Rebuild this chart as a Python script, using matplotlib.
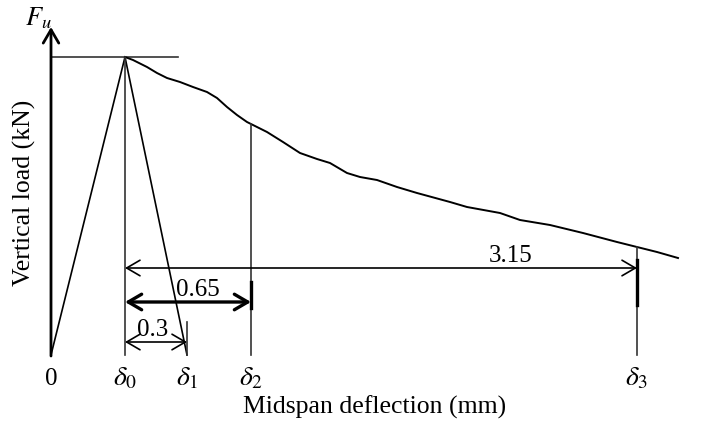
import numpy as np
import matplotlib.pyplot as plt

plt.rcParams['font.family'] = 'Liberation Serif'
plt.rcParams['mathtext.fontset'] = 'stix'

# load-deflection curve after the peak (schematic units)
curve_x = [74, 82, 96, 106, 116, 129, 142, 156, 166, 176, 186, 196, 206, 216,
           232, 249, 266, 279, 296, 309, 326, 346, 366, 399, 416, 449, 469, 499,
           532, 566, 586, 606, 627]
curve_y = [298, 295, 288, 282, 277, 273, 268, 263, 257, 248, 240, 233, 228, 223,
           213, 202, 196, 192, 182, 178, 175, 168, 162, 153, 148, 142, 135, 130,
           122, 113, 108, 103, 97]

# characteristic deflections
delta_pos = [74, 136, 200, 586]
delta_labels = [r'$\delta_0$', r'$\delta_1$', r'$\delta_2$', r'$\delta_3$']
spans = ['0.3', '0.65', '3.15']
span_y = [13, 53, 87]
span_lw = [1.2, 2.4, 1.2]

peak_x, peak_y = curve_x[0], curve_y[0]

fig = plt.figure(figsize=(7.04, 4.3), dpi=100)
ax = fig.add_axes([0, 0, 1, 1])
ax.set_xlim(-51, 653)
ax.set_ylim(-75, 355)
ax.axis('off')

head = '->,head_length=0.6,head_width=0.35'
# axes with arrow heads
ax.annotate('', xy=(0, 328), xytext=(0, -1),
            arrowprops=dict(arrowstyle=head, lw=2, color='k', shrinkA=0, shrinkB=0, mutation_scale=16))
ax.annotate('', xy=(662, 0), xytext=(-1, 0),
            arrowprops=dict(arrowstyle=head, lw=2, color='k', shrinkA=0, shrinkB=0, mutation_scale=16))
ax.text(-13, 337, r'$F_u$', fontsize=19, ha='center', va='center')

# peak level line
ax.plot([0, 127], [peak_y, peak_y], color='#333333', lw=1.2)

# idealised triangle
ax.plot([0, peak_x, delta_pos[1]], [0, peak_y, 0], color='k', lw=1.2)
ax.plot(curve_x, curve_y, color='k', lw=1.4, solid_joinstyle='round')

# verticals at characteristic deflections
ax.plot([delta_pos[0], delta_pos[0]], [0, peak_y], color='#333333', lw=1.2)
for d in delta_pos[2:]:
    ax.plot([d, d], [0, np.interp(d, curve_x, curve_y)], color='#333333', lw=1.2)
ax.plot([delta_pos[1], delta_pos[1]], [0, 33], color='#333333', lw=1.2)
ax.plot([delta_pos[2], delta_pos[2]], [47, 73], color='k', lw=2.4)
ax.plot([delta_pos[3], delta_pos[3]], [50, 95], color='k', lw=2.4)

# dimension arrows
for lab, yy, lw, end, tx in zip(spans, span_y, span_lw, delta_pos[1:], [102, 147, 460]):
    ax.annotate('', xy=(end, yy), xytext=(delta_pos[0], yy),
                arrowprops=dict(arrowstyle='<->,head_length=0.6,head_width=0.35', lw=lw, color='k',
                                shrinkA=0, shrinkB=0, mutation_scale=16))
    ax.text(tx, yy + 1, lab, fontsize=18, ha='center', va='bottom')

# tick labels
ax.text(0, -24, '0', fontsize=18, ha='center', va='center')
for d, lab in zip(delta_pos, delta_labels):
    ax.text(d, -24, lab, fontsize=20, ha='center', va='center')

ax.text(324, -52, 'Midspan deflection (mm)', fontsize=18.5, ha='center', va='center')
ax.text(-27, 162, 'Vertical load (kN)', fontsize=18.5, ha='center', va='center', rotation=90)

fig.savefig('out.png', dpi=100)
